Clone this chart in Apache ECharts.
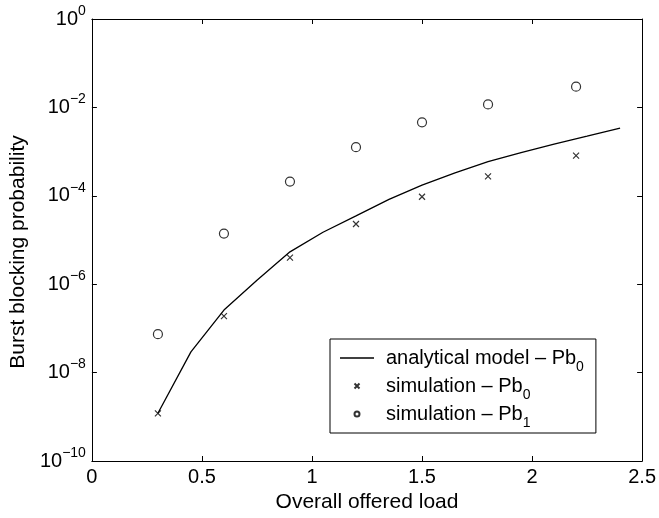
<!DOCTYPE html>
<html>
<head>
<meta charset="utf-8">
<script src="https://cdn.jsdelivr.net/npm/echarts@6/dist/echarts.min.js"></script>
<style>
html,body{margin:0;padding:0;background:#fff;}
#chart{width:659px;height:518px;}
</style>
</head>
<body>
<div id="chart"></div>
<script>
// ---- data ----
const loadModel = [0.3, 0.45, 0.6, 0.75, 0.9, 1.05, 1.2, 1.35, 1.5, 1.65, 1.8, 1.95, 2.1, 2.25, 2.4];
const pbModel = [1.2e-9, 2.95e-8, 2.6e-7, 1.23e-6, 5.4e-6, 1.5e-5, 3.5e-5, 8.3e-5, 1.74e-4, 3.3e-4, 5.9e-4, 9.5e-4, 1.48e-3, 2.24e-3, 3.4e-3];
const loadSim = [0.3, 0.6, 0.9, 1.2, 1.5, 1.8, 2.2];
const pb0Sim = [1.2e-9, 1.9e-7, 4.0e-6, 2.3e-5, 9.5e-5, 2.75e-4, 8.1e-4];
const pb1Sim = [7.4e-8, 1.4e-5, 2.1e-4, 1.26e-3, 4.6e-3, 1.17e-2, 2.95e-2];
const xTicks = [0, 0.5, 1, 1.5, 2, 2.5];
const yTickExponents = [-10, -8, -6, -4, -2, 0];
const seriesNames = ['analytical model – Pb0', 'simulation – Pb0', 'simulation – Pb1'];
const legendMain = ['analytical model – Pb', 'simulation – Pb', 'simulation – Pb'];
const legendSub = ['0', '0', '1'];
const xTitle = 'Overall offered load';
const yTitle = 'Burst blocking probability';

const FONT = '"Liberation Sans", Arial, Helvetica, sans-serif';
const chart = echarts.init(document.getElementById('chart'), null, {renderer: 'canvas'});

function zip(xs, ys) { return xs.map((x, i) => [x, ys[i]]); }

const yMin = Math.pow(10, yTickExponents[0]);
const yMax = Math.pow(10, yTickExponents[yTickExponents.length - 1]);
const xStep = xTicks[1] - xTicks[0];
const yStep = yTickExponents[1] - yTickExponents[0];

const axisLineStyle = {color: '#000', width: 1};

const option = {
  backgroundColor: '#fff',
  animation: false,
  textStyle: {fontFamily: FONT, color: '#000'},
  grid: {left: 84, right: 15, top: 19, bottom: 56, containLabel: false},
  xAxis: [{
    type: 'value', min: xTicks[0], max: xTicks[xTicks.length - 1], interval: xStep,
    position: 'bottom',
    axisLine: {show: true, onZero: false, lineStyle: axisLineStyle},
    axisTick: {show: true, inside: true, length: 5, lineStyle: axisLineStyle},
    splitLine: {show: false},
    axisLabel: {show: true, color: '#000', fontSize: 20, fontFamily: FONT, margin: 6,
      formatter: v => String(v)},
    name: xTitle, nameLocation: 'middle', nameGap: 31,
    nameTextStyle: {fontSize: 21, color: '#000', fontFamily: FONT}
  }, {
    type: 'value', min: xTicks[0], max: xTicks[xTicks.length - 1], interval: xStep,
    position: 'top',
    axisLine: {show: true, onZero: false, lineStyle: axisLineStyle},
    axisTick: {show: true, inside: true, length: 5, lineStyle: axisLineStyle},
    splitLine: {show: false}, axisLabel: {show: false}
  }],
  yAxis: [{
    type: 'log', logBase: 10, min: yMin, max: yMax, interval: yStep,
    position: 'left',
    axisLine: {show: true, onZero: false, lineStyle: axisLineStyle},
    axisTick: {show: true, inside: true, length: 5, lineStyle: axisLineStyle},
    minorTick: {show: false},
    splitLine: {show: false},
    axisLabel: {show: true, color: '#000', fontFamily: FONT, margin: 6,
      formatter: v => {
        const e = Math.round(Math.log10(v));
        if (yTickExponents.indexOf(e) < 0) return '';
        const es = e < 0 ? '\u2212' + (-e) : String(e);
        return '{b|10}{e|' + es + '}';
      },
      rich: {
        b: {fontSize: 20, fontFamily: FONT, color: '#000'},
        e: {fontSize: 14, fontFamily: FONT, color: '#000', padding: [0, 0, 16, 0]}
      }
    },
    name: yTitle, nameLocation: 'middle', nameGap: 56, nameRotate: 90,
    nameTextStyle: {fontSize: 21, color: '#000', fontFamily: FONT, padding: [0, 24, 0, 0]}
  }, {
    type: 'log', logBase: 10, min: yMin, max: yMax, interval: yStep,
    position: 'right',
    axisLine: {show: true, onZero: false, lineStyle: axisLineStyle},
    axisTick: {show: true, inside: true, length: 5, lineStyle: axisLineStyle},
    minorTick: {show: false},
    splitLine: {show: false}, axisLabel: {show: false}
  }],
  legend: {
    show: true, orient: 'vertical',
    left: 330, top: 339,
    padding: [3, 12, 3, 10],
    itemGap: -4,
    itemWidth: 34, itemHeight: 5,
    borderColor: '#000', borderWidth: 1, backgroundColor: '#fff',
    data: [
      {name: seriesNames[0], icon: 'path://M0,0H34V1.3H0Z'},
      {name: seriesNames[1]},
      {name: seriesNames[2]}
    ],
    formatter: name => {
      const i = seriesNames.indexOf(name);
      return '{t|' + legendMain[i] + '}{s|' + legendSub[i] + '}';
    },
    textStyle: {
      fontFamily: FONT, color: '#000',
      rich: {
        t: {fontSize: 20, fontFamily: FONT, color: '#000', padding: [0, 0, 0, 7]},
        s: {fontSize: 14, lineHeight: 14, fontFamily: FONT, color: '#000', padding: [18, 0, 0, 0]}
      }
    }
  },
  series: [{
    name: seriesNames[0], type: 'line', xAxisIndex: 0, yAxisIndex: 0,
    data: zip(loadModel, pbModel),
    symbol: 'none', smooth: false,
    lineStyle: {color: '#000', width: 1.3},
    itemStyle: {color: '#000'}
  }, {
    name: seriesNames[1], type: 'scatter', xAxisIndex: 0, yAxisIndex: 0,
    data: zip(loadSim, pb0Sim),
    symbol: 'path://M0,0L10,10M10,0L0,10', symbolSize: 6,
    itemStyle: {color: 'none', borderColor: '#000', borderWidth: 1.2}
  }, {
    name: seriesNames[2], type: 'scatter', xAxisIndex: 0, yAxisIndex: 0,
    data: zip(loadSim, pb1Sim),
    symbol: 'circle', symbolSize: 9,
    itemStyle: {color: '#fff', borderColor: '#000', borderWidth: 1.2}
  }]
};
chart.setOption(option);
</script>
</body>
</html>
